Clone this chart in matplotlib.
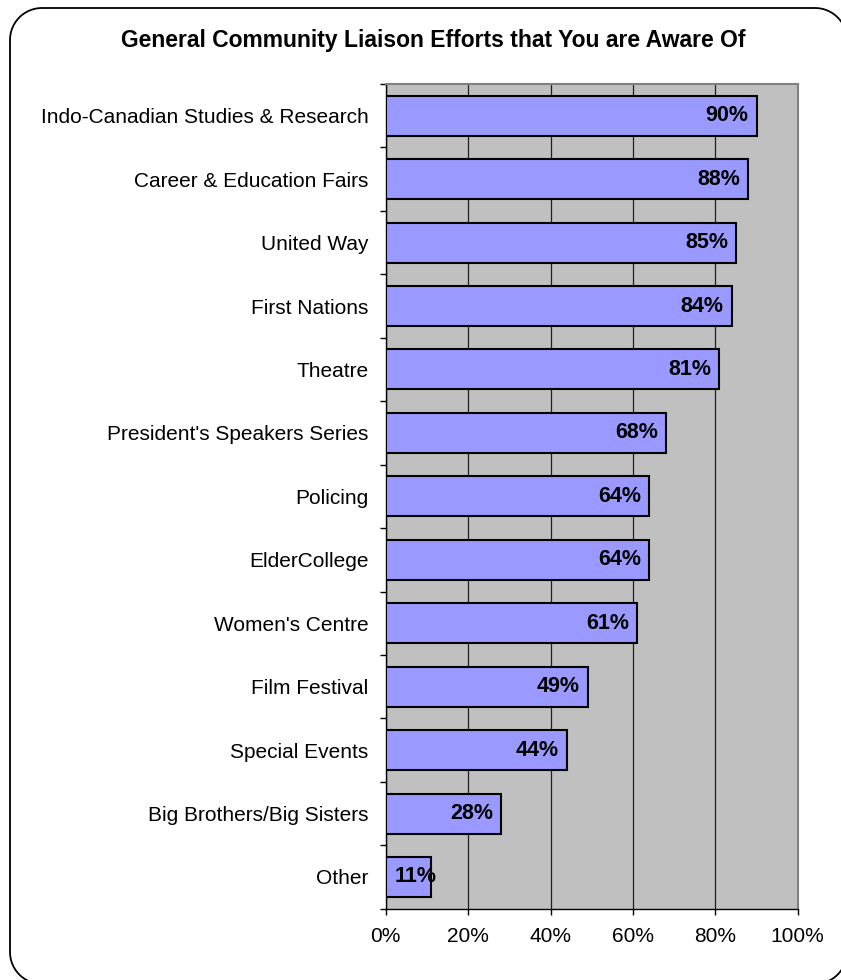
import numpy as np
import matplotlib.pyplot as plt
from matplotlib.patches import PathPatch
from matplotlib.path import Path
from matplotlib.ticker import FuncFormatter

plt.rcParams['font.family'] = ['Liberation Sans', 'DejaVu Sans']

categories = ['Indo-Canadian Studies & Research', 'Career & Education Fairs', 'United Way',
              'First Nations', 'Theatre', "President's Speakers Series", 'Policing',
              'ElderCollege', "Women's Centre", 'Film Festival', 'Special Events',
              'Big Brothers/Big Sisters', 'Other']
values = [90, 88, 85, 84, 81, 68, 64, 64, 61, 49, 44, 28, 11]
xticks = [0, 20, 40, 60, 80, 100]
title = 'General Community Liaison Efforts that You are Aware Of'

W, H = 841, 980
fig = plt.figure(figsize=(W / 100, H / 100), dpi=100)


def rounded_rect(x0, y0, x1, y1, r):
    # closed outline of a rounded rectangle, in pixels (y downwards)
    pts = []
    for cx, cy, a0 in [(x1 - r, y0 + r, -90), (x1 - r, y1 - r, 0),
                       (x0 + r, y1 - r, 90), (x0 + r, y0 + r, 180)]:
        t = np.radians(np.linspace(a0, a0 + 90, 20))
        pts += list(zip(cx + r * np.cos(t), cy + r * np.sin(t)))
    pts.append(pts[0])
    pts = np.array(pts)
    return Path(np.column_stack([pts[:, 0] / W, 1 - pts[:, 1] / H]))


# rounded outer border like the Excel chart area
fig.add_artist(PathPatch(rounded_rect(10, 8, 847, 984, 32), transform=fig.transFigure,
                         facecolor='none', edgecolor='black', linewidth=1.3))

ax = fig.add_axes([385.7 / W, 1 - 908.7 / H, 412 / W, 824.7 / H])
ax.set_facecolor('#C0C0C0')

y = np.arange(len(categories))
ax.barh(y, values, height=0.63, color='#9999FF', edgecolor='black', linewidth=1.5, zorder=3)

for yi, v in zip(y, values):
    if v < 15:
        ax.annotate(f'{v}%', (0, yi), xytext=(9, 0), textcoords='offset pixels',
                    ha='left', va='center', fontsize=15.5, fontweight='bold', zorder=4)
    else:
        ax.annotate(f'{v}%', (v, yi), xytext=(-8, 0), textcoords='offset pixels',
                    ha='right', va='center', fontsize=15.5, fontweight='bold', zorder=4)

ax.set_xlim(0, 100)
ax.set_ylim(len(categories) - 0.5, -0.5)
ax.set_xticks(xticks)
ax.xaxis.set_major_formatter(FuncFormatter(lambda v, p: f'{v:.0f}%'))
ax.grid(axis='x', color='#202020', linewidth=0.9, zorder=1)

ax.set_yticks(y)
ax.set_yticklabels(categories)
ax.set_yticks(np.arange(len(categories) + 1) - 0.5, minor=True)
ax.tick_params(axis='y', which='major', length=0, pad=12.5, labelsize=15)
ax.tick_params(axis='y', which='minor', length=4, width=1, direction='out')
ax.tick_params(axis='x', length=4, width=1, direction='out', pad=9, labelsize=15)

for side in ['top', 'right']:
    ax.spines[side].set_color('#808080')
    ax.spines[side].set_linewidth(1.5)
for side in ['left', 'bottom']:
    ax.spines[side].set_color('black')
    ax.spines[side].set_linewidth(1.0)

fig.text(433 / W, 1 - 40 / H, title, ha='center', va='center',
         fontsize=16.5, fontweight='bold')

fig.savefig('out.png', dpi=100)
